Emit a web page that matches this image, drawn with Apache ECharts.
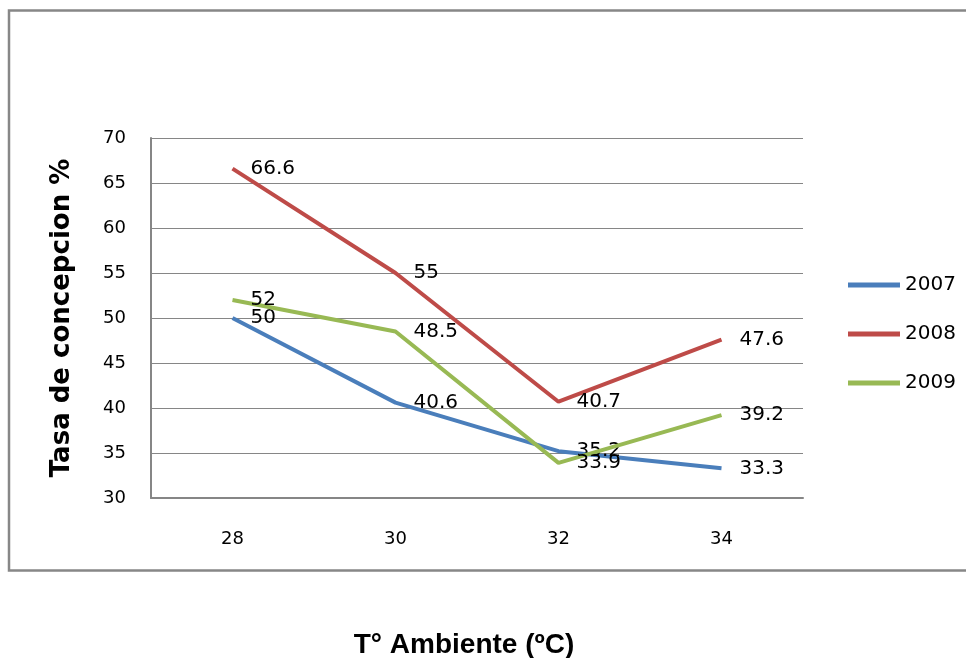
<!DOCTYPE html>
<html>
<head>
<meta charset="utf-8">
<script src="https://cdn.jsdelivr.net/npm/echarts@6/dist/echarts.min.js"></script>
<style>
  html, body { margin: 0; padding: 0; background: #fff; }
  #chart { width: 966px; height: 658px; }
</style>
</head>
<body>
<div id="chart"></div>
<script>
// Ambient temperature categories (°C)
var temperatures = ['28', '30', '32', '34'];

// Conception rate (%) per year
var rate2007 = [50, 40.6, 35.2, 33.3];
var rate2008 = [66.6, 55, 40.7, 47.6];
var rate2009 = [52, 48.5, 33.9, 39.2];

var yearNames = ['2007', '2008', '2009'];
var yearColors = ['#4A7EBB', '#BE4B48', '#98B954'];
var yearValues = [rate2007, rate2008, rate2009];

var chart = echarts.init(document.getElementById('chart'), null, { renderer: 'canvas' });

var series = yearNames.map(function (name, i) {
  return {
    name: name,
    type: 'line',
    data: yearValues[i],
    showSymbol: true,
    symbol: 'circle',
    symbolSize: 0.01,
    lineStyle: { color: yearColors[i], width: 4 },
    itemStyle: { color: yearColors[i] },
    label: {
      show: true,
      position: 'right',
      distance: 18,
      color: '#000',
      fontFamily: 'DejaVu Sans',
      fontSize: 20
    },
    z: 3 + i
  };
});

chart.setOption({
  animation: false,
  backgroundColor: '#fff',
  graphic: [{
    type: 'rect',
    shape: { x: 9, y: 10.5, width: 980, height: 560 },
    style: { fill: 'none', stroke: '#878787', lineWidth: 2.5 },
    z: 0
  }],
  title: {
    text: 'T° Ambiente (ºC)',
    left: 459,
    top: 626,
    textAlign: 'center',
    textStyle: {
      fontFamily: 'Liberation Sans',
      fontWeight: 'bold',
      fontSize: 28,
      color: '#000'
    }
  },
  legend: {
    orient: 'vertical',
    left: 843,
    top: 270,
    itemWidth: 52,
    itemHeight: 5,
    itemGap: 29,
    icon: 'rect',
    data: yearNames,
    textStyle: {
      fontFamily: 'DejaVu Sans',
      fontSize: 20,
      lineHeight: 20,
      color: '#000'
    }
  },
  grid: { left: 151, right: 163, top: 138, bottom: 160 },
  xAxis: {
    type: 'category',
    data: temperatures,
    boundaryGap: true,
    axisLine: { lineStyle: { color: '#868686', width: 2 } },
    axisTick: { show: false },
    axisLabel: {
      margin: 32,
      color: '#000',
      fontFamily: 'DejaVu Sans',
      fontSize: 18
    }
  },
  yAxis: {
    type: 'value',
    min: 30,
    max: 70,
    interval: 5,
    name: 'Tasa de concepcion %',
    nameLocation: 'middle',
    nameGap: 76,
    nameTextStyle: {
      fontFamily: 'DejaVu Sans',
      fontWeight: 'bold',
      fontSize: 26,
      color: '#000'
    },
    axisLine: { show: true, lineStyle: { color: '#868686', width: 2 } },
    axisTick: { show: false },
    splitLine: { lineStyle: { color: '#868686', width: 1 } },
    axisLabel: {
      margin: 25,
      color: '#000',
      fontFamily: 'DejaVu Sans',
      fontSize: 18
    }
  },
  series: series
});
</script>
</body>
</html>
